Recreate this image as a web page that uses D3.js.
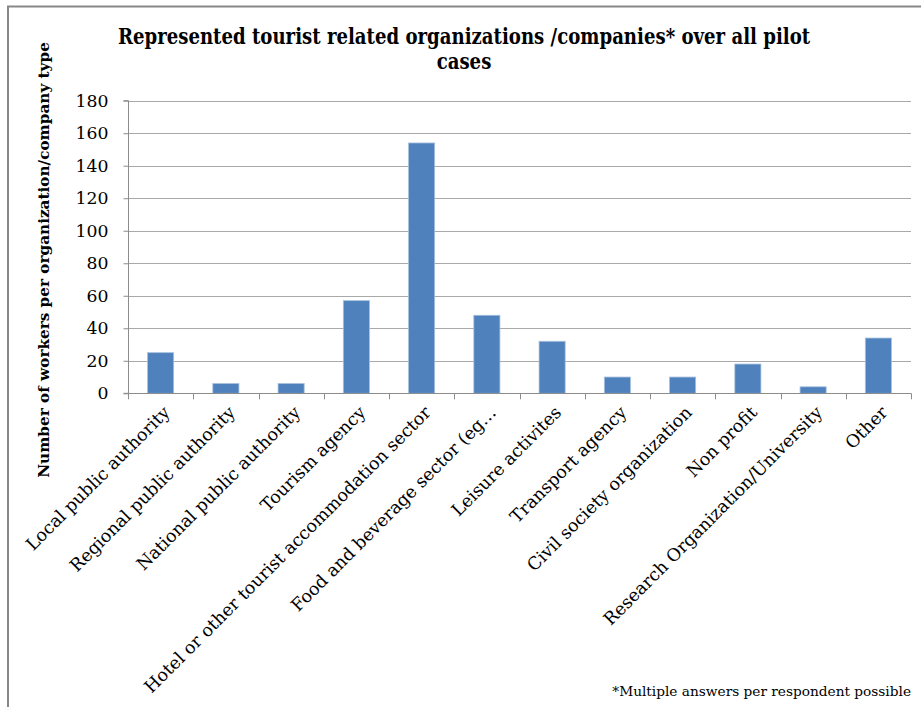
<!DOCTYPE html>
<html>
<head>
<meta charset="utf-8">
<script src="https://cdn.jsdelivr.net/npm/d3@7"></script>
<style>
  html, body { margin: 0; padding: 0; background: #fff; }
  svg { display: block; }
  text { font-family: "DejaVu Serif", "Liberation Serif", serif; fill: #000; }
</style>
</head>
<body>
<svg id="chart" width="921" height="707"></svg>
<script>
// Organization / company types and the count for each
const categories = [
  "Local public authority",
  "Regional public authority",
  "National public authority",
  "Tourism agency",
  "Hotel or other tourist accommodation sector",
  "Food and beverage sector (eg…",
  "Leisure activites",
  "Transport agency",
  "Civil society organization",
  "Non profit",
  "Research Organization/University",
  "Other"
];
const values = [25, 6, 6, 57, 154, 48, 32, 10, 10, 18, 4, 34];
const yTicks = [0, 20, 40, 60, 80, 100, 120, 140, 160, 180];

const titleLines = [
  "Represented tourist related organizations /companies* over all pilot",
  "cases"
];
const yTitle = "Number of workers per organization/company type";
const footnote = "*Multiple answers per respondent possible";

const svg = d3.select("#chart");
const plot = { left: 128, right: 911, top: 100.7, bottom: 393.3 };

// scale a text's font size so that it spans the given width
function fitSize(sel, width) {
  const node = sel.node();
  const fs = parseFloat(sel.style("font-size"));
  const w = node.getComputedTextLength();
  const nfs = fs * width / w;
  sel.style("font-size", nfs + "px");
  return nfs;
}

// chart frame (top and left edges)
svg.append("path")
  .attr("d", "M8,921 L8,6.5 L921,6.5")
  .attr("fill", "none")
  .attr("stroke", "#878787")
  .attr("stroke-width", 2);

const x = d3.scaleBand().domain(categories).range([plot.left, plot.right]).paddingInner(0.6).paddingOuter(0.3);
const xEdge = d3.scaleLinear().domain([0, categories.length]).range([plot.left, plot.right]);
const y = d3.scaleLinear().domain([0, 180]).range([plot.bottom, plot.top]);

// horizontal gridlines
svg.append("g")
  .selectAll("line")
  .data(yTicks.filter(d => d > 0))
  .join("line")
  .attr("x1", plot.left).attr("x2", plot.right)
  .attr("y1", d => Math.round(y(d)) + 0.5).attr("y2", d => Math.round(y(d)) + 0.5)
  .attr("stroke", "#a9a9a9")
  .attr("stroke-width", 1.2);

// y axis
const yAxis = d3.axisLeft(y).tickValues(yTicks).tickSize(5).tickPadding(15).tickFormat(d3.format("d"));
const gy = svg.append("g").attr("transform", `translate(${plot.left + 0.5},0)`).call(yAxis);
gy.select(".domain").attr("stroke", "#8c8c8c").attr("d", `M-5,${plot.top}H0V${plot.bottom}H-5`);
gy.selectAll(".tick line").attr("stroke", "#8c8c8c");
gy.selectAll(".tick text")
  .style("font-family", "'DejaVu Serif', serif")
  .style("font-size", "17px")
  .attr("fill", "#000");
{
  const t180 = gy.selectAll(".tick text").filter(d => d === 180);
  const fs = fitSize(t180, 33);
  gy.selectAll(".tick text").style("font-size", fs + "px");
}

// bars
svg.append("g")
  .selectAll("rect")
  .data(values)
  .join("rect")
  .attr("x", (d, i) => x(categories[i]))
  .attr("width", x.bandwidth())
  .attr("y", d => y(d))
  .attr("height", d => y(0) - y(d))
  .attr("fill", "#4f81bd")
  .attr("stroke", "#a7c0de")
  .attr("stroke-width", 0.8);

// x axis line and boundary ticks
const gx = svg.append("g");
gx.append("line")
  .attr("x1", plot.left).attr("x2", plot.right)
  .attr("y1", Math.round(plot.bottom) + 0.5).attr("y2", Math.round(plot.bottom) + 0.5)
  .attr("stroke", "#8c8c8c");
gx.selectAll("line.tick")
  .data(d3.range(categories.length + 1))
  .join("line")
  .attr("class", "tick")
  .attr("x1", d => Math.round(xEdge(d)) + 0.5).attr("x2", d => Math.round(xEdge(d)) + 0.5)
  .attr("y1", plot.bottom).attr("y2", plot.bottom + 6)
  .attr("stroke", "#8c8c8c");

// rotated category labels
const labels = gx.selectAll("text.cat")
  .data(categories)
  .join("text")
  .attr("class", "cat")
  .attr("transform", d => `translate(${x(d) + x.bandwidth() / 2 + 6},${plot.bottom + 16}) rotate(-45)`)
  .attr("text-anchor", "end")
  .attr("dy", "0.35em")
  .style("font-size", "16px")
  .text(d => d);
{
  const longest = labels.filter(d => d === categories[4]);
  const fs = fitSize(longest, 397);
  labels.style("font-size", fs + "px");
}

// title (slightly tall, narrow lettering)
const titles = svg.append("g")
  .selectAll("text")
  .data(titleLines)
  .join("text")
  .attr("transform", (d, i) => `translate(464,${44 + i * 24.5}) scale(1,1.18)`)
  .attr("text-anchor", "middle")
  .style("font-size", "17px")
  .style("font-weight", "bold")
  .text(d => d);
{
  const fs = fitSize(titles.filter((d, i) => i === 0), 692);
  titles.style("font-size", fs + "px");
}

// y axis title
const yt = svg.append("text")
  .attr("transform", "translate(49,260) rotate(-90)")
  .attr("text-anchor", "middle")
  .style("font-size", "15px")
  .style("font-weight", "bold")
  .text(yTitle);
fitSize(yt, 436);

// footnote
const fn = svg.append("text")
  .attr("x", 911)
  .attr("y", 696)
  .attr("text-anchor", "end")
  .style("font-size", "13px")
  .text(footnote);
fitSize(fn, 299);
</script>
</body>
</html>
